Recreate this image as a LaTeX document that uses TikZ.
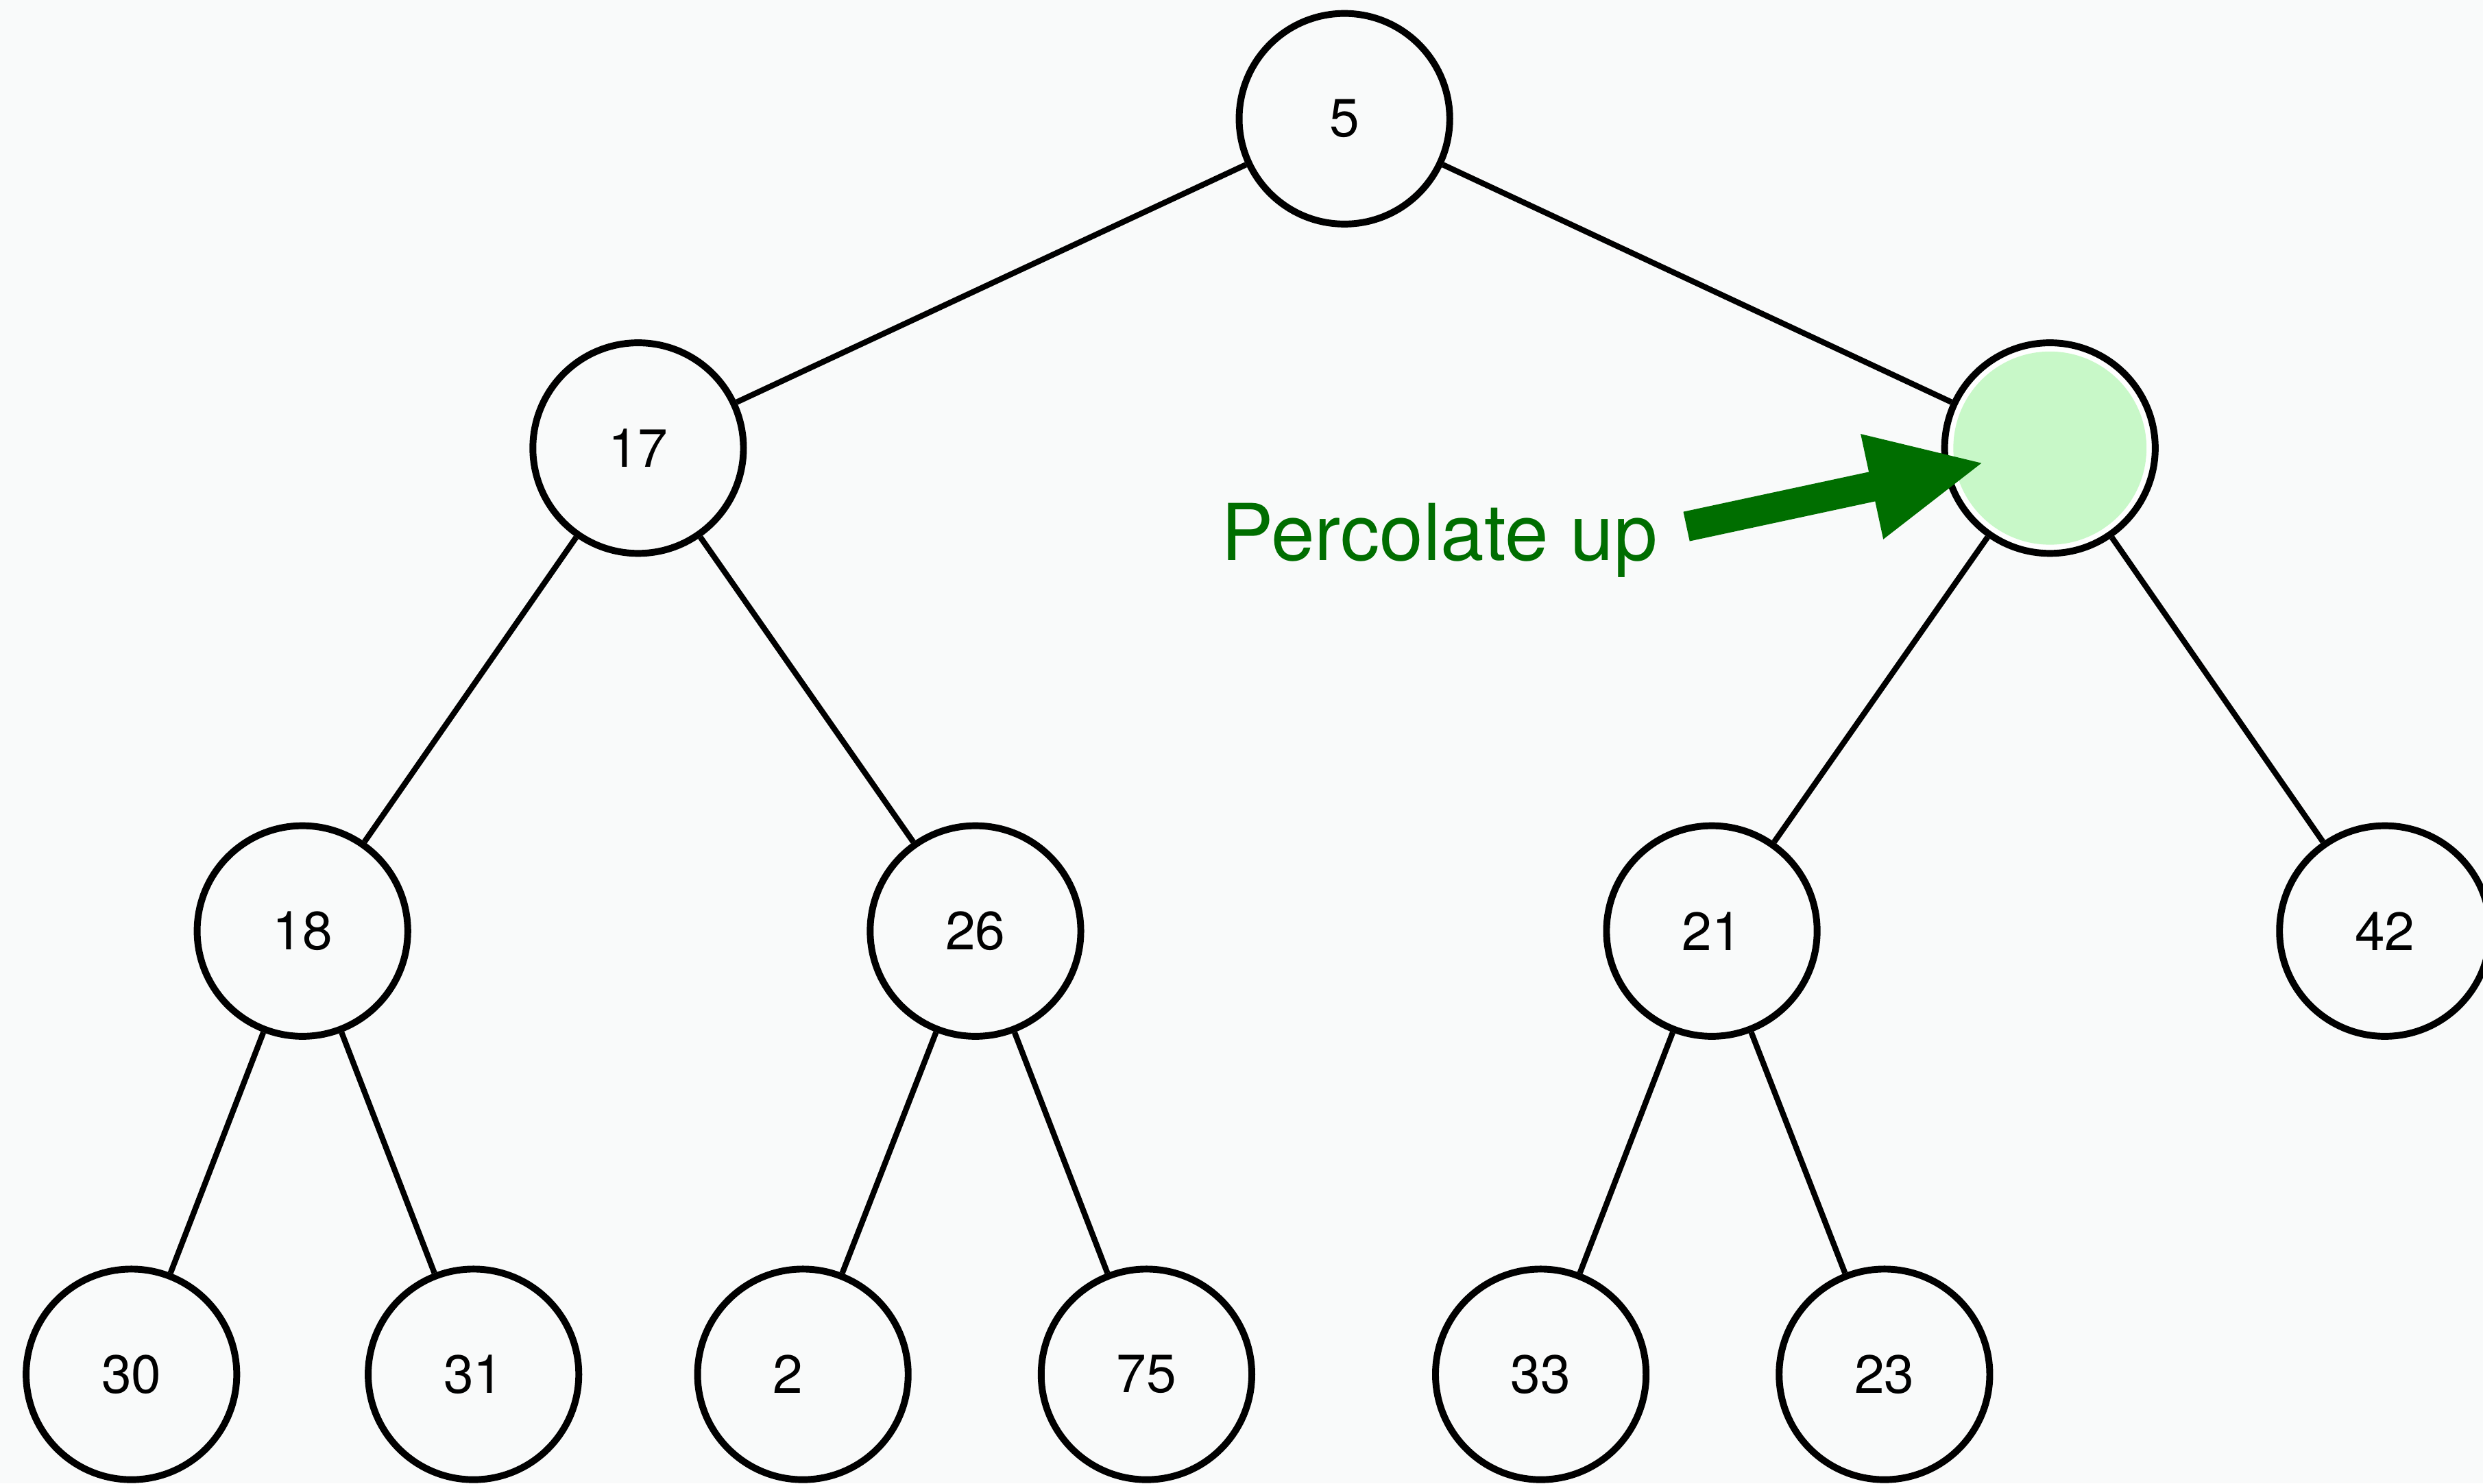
\documentclass[tikz,border=0pt]{standalone}
\usepackage{fontspec}
\setmainfont{TeX Gyre Heros}
\usetikzlibrary{arrows.meta,calc}
\definecolor{paper}{RGB}{249,250,250}
\definecolor{holegreen}{RGB}{200,248,200}
\definecolor{pushgreen}{RGB}{0,110,0}
\tikzset{
  key/.style={circle, draw=black, line width=4.3pt, fill=paper, minimum size=133pt,
    inner sep=0pt, font=\fontsize{34}{40}\selectfont},
  link/.style={line width=3.6pt},
}

\begin{document}
\begin{tikzpicture}[x=1pt,y=-1pt]
    \fill[paper] (0,0) rectangle (1568,937);
    \useasboundingbox (0,0) rectangle (1568,937);

    % heap keys, one row after the other
    \foreach \name/\txt/\x/\y in {5/5/849/75, 17/17/403/283,
        18/18/191/588, 26/26/616/588, 21/21/1081/588, 42/42/1506/588,
        30/30/83/868, 31/31/299/868, 2/2\phantom{0}/507/868, 75/75/724/868,
        33/33/973/868, 23/23/1190/868}
        \node[key] (n\name) at (\x,\y) {\txt};

    % the empty slot
    \node[key, fill=white] (hole) at (1294.5,283) {};
    \node[circle, fill=holegreen, minimum size=122pt, inner sep=0pt] (holefill) at (hole) {};

    \foreach \a/\b in {n5/n17, n5/hole, n17/n18, n17/n26, hole/n21, hole/n42,
        n18/n30, n18/n31, n26/n2, n26/n75, n21/n33, n21/n23}
        \draw[link] (\a) -- (\b);

    \node[anchor=base west, inner sep=0pt, text=pushgreen,
        font=\fontsize{49.5}{60}\selectfont] (perc) at (771,354) {Percolate up};
    \coordinate (tail) at (1065,332.5);
    \coordinate (tip) at ($(hole)+(-41,9)$);
    \draw[pushgreen, line width=19pt, -{Triangle[length=73pt,width=62pt]}] (tail) -- (tip);
\end{tikzpicture}
\end{document}
